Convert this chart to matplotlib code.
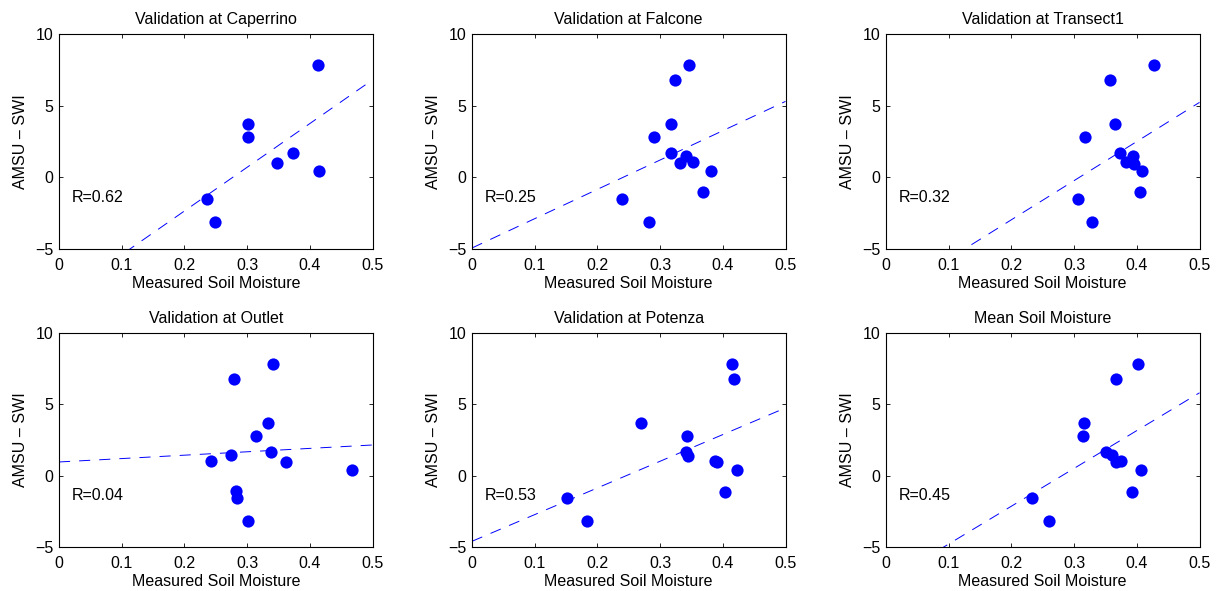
import matplotlib
matplotlib.use("Agg")
import matplotlib.pyplot as plt
import numpy as np

plt.rcParams['font.family'] = ['Liberation Sans', 'DejaVu Sans']
plt.rcParams['lines.scale_dashes'] = False

titles = ["Validation at Caperrino", "Validation at Falcone", "Validation at Transect1",
          "Validation at Outlet", "Validation at Potenza", "Mean Soil Moisture"]
r_labels = ["R=0.62", "R=0.25", "R=0.32", "R=0.04", "R=0.53", "R=0.45"]

caperrino_x = [0.413, 0.302, 0.302, 0.347, 0.374, 0.414, 0.236, 0.249]
caperrino_y = [7.86, 3.72, 2.84, 0.98, 1.72, 0.44, -1.51, -3.14]

falcone_x = [0.346, 0.324, 0.318, 0.290, 0.318, 0.342, 0.332, 0.352, 0.381, 0.368, 0.240, 0.283]
falcone_y = [7.86, 6.81, 3.72, 2.84, 1.72, 1.49, 0.98, 1.05, 0.44, -1.05, -1.51, -3.14]

transect_x = [0.427, 0.358, 0.365, 0.317, 0.373, 0.394, 0.382, 0.396, 0.408, 0.405, 0.306, 0.328]
transect_y = [7.86, 6.81, 3.72, 2.84, 1.72, 1.49, 1.05, 0.95, 0.44, -1.05, -1.51, -3.14]

outlet_x = [0.342, 0.279, 0.333, 0.314, 0.338, 0.275, 0.243, 0.362, 0.467, 0.282, 0.284, 0.301]
outlet_y = [7.81, 6.81, 3.71, 2.80, 1.68, 1.43, 1.03, 0.94, 0.40, -1.06, -1.55, -3.20]

potenza_x = [0.415, 0.418, 0.270, 0.343, 0.341, 0.345, 0.388, 0.390, 0.423, 0.403, 0.152, 0.183]
potenza_y = [7.81, 6.81, 3.71, 2.80, 1.68, 1.40, 1.01, 0.94, 0.40, -1.11, -1.55, -3.20]

mean_x = [0.402, 0.367, 0.315, 0.314, 0.351, 0.360, 0.367, 0.375, 0.406, 0.392, 0.233, 0.260]
mean_y = [7.81, 6.81, 3.71, 2.80, 1.68, 1.45, 0.94, 1.06, 0.40, -1.11, -1.55, -3.20]

fit_slope = [30.5, 20.46, 27.3, 2.38, 18.7, 26.5]
fit_intercept = [-8.45, -4.93, -8.42, 0.96, -4.6, -7.44]

xs = [caperrino_x, falcone_x, transect_x, outlet_x, potenza_x, mean_x]
ys = [caperrino_y, falcone_y, transect_y, outlet_y, potenza_y, mean_y]

fig = plt.figure(figsize=(12.18, 5.91), dpi=100)
W, H = 1218, 591
lefts = [59, 472, 886]
rows = [(34, 249), (333, 547)]
FS = 11.5

for i in range(6):
    r, c = divmod(i, 3)
    top, bot = rows[r]
    ax = fig.add_axes([lefts[c] / W, 1 - bot / H, 313.5 / W, (bot - top) / H])
    ax.plot(xs[i], ys[i], 'o', color='#0000ff', markersize=8.8, markeredgewidth=0)
    lx = np.array([0.0, 0.5])
    ax.plot(lx, fit_slope[i] * lx + fit_intercept[i], color='#0000ff', lw=0.7,
            linestyle=(0, (8, 6.5)))
    ax.set_xlim(0, 0.5)
    ax.set_ylim(-5, 10)
    ax.set_xticks([0, 0.1, 0.2, 0.3, 0.4, 0.5])
    ax.set_xticklabels(["0", "0.1", "0.2", "0.3", "0.4", "0.5"])
    ax.set_yticks([-5, 0, 5, 10])
    ax.set_yticklabels(["\u22125", "0", "5", "10"])
    ax.tick_params(direction='in', top=True, right=True, labelsize=FS, length=3, width=0.6)
    ax.tick_params(axis='x', pad=6.5)
    ax.tick_params(axis='y', pad=4)
    for s in ax.spines.values():
        s.set_linewidth(0.8)
    ax.set_title(titles[i], fontsize=FS, pad=7)
    ax.set_xlabel("Measured Soil Moisture", fontsize=FS, labelpad=2)
    ax.set_ylabel("AMSU \u2013 SWI", fontsize=FS, labelpad=5)
    ax.text(0.02, -1.4, r_labels[i], fontsize=FS, va='center', ha='left')

fig.savefig("out.png", dpi=100)
